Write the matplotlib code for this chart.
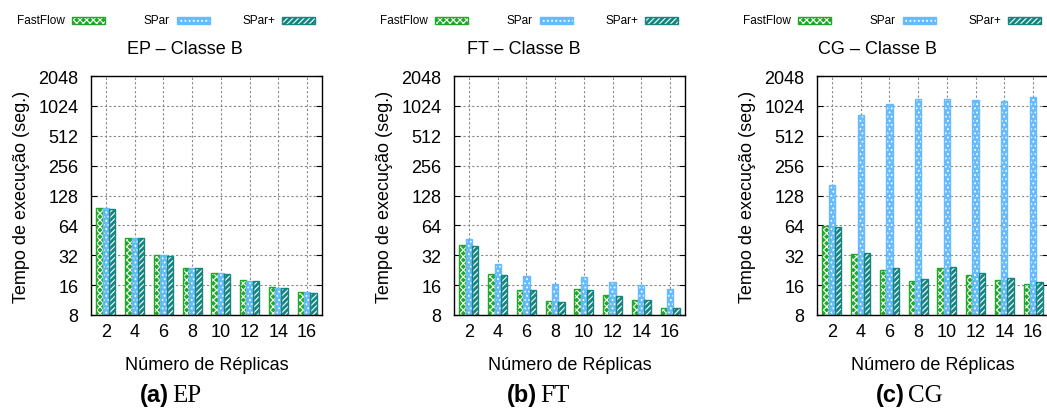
import matplotlib
matplotlib.use("Agg")
import matplotlib.pyplot as plt
from matplotlib.patches import Rectangle
from matplotlib.ticker import FixedLocator, FixedFormatter
import numpy as np

plt.rcParams['font.family'] = ['Liberation Sans', 'DejaVu Sans']
plt.rcParams['hatch.linewidth'] = 0.8

# dados (tempo em segundos)
replicas = [2, 4, 6, 8, 10, 12, 14, 16]
series = ['FastFlow', 'SPar', 'SPar+']

ep_fastflow = [94.7, 47.6, 31.9, 23.9, 21.3, 18.0, 15.3, 13.5]
ep_spar = [95.0, 47.6, 31.9, 23.9, 21.0, 17.6, 15.1, 13.7]
ep_sparplus = [94.0, 47.6, 31.7, 23.8, 20.8, 17.6, 15.1, 13.3]

ft_fastflow = [40.8, 20.7, 14.3, 11.1, 14.6, 12.6, 11.2, 9.5]
ft_spar = [46.5, 26.1, 19.7, 16.4, 19.3, 17.2, 15.9, 14.7]
ft_sparplus = [39.9, 20.4, 14.2, 10.9, 14.4, 12.4, 11.4, 9.4]

cg_fastflow = [63.4, 32.9, 22.9, 17.7, 23.6, 20.4, 18.1, 16.5]
cg_spar = [162.6, 823, 1079, 1193, 1193, 1165, 1156, 1259]
cg_sparplus = [61.0, 33.6, 23.6, 18.6, 24.3, 21.3, 19.0, 17.3]

titulos = ['EP – Classe B', 'FT – Classe B', 'CG – Classe B']
legendas = ['EP', 'FT', 'CG']
letras = ['(a)', '(b)', '(c)']
yticks = [8, 16, 32, 64, 128, 256, 512, 1024, 2048]

cores = ['#1fa82a', '#66bbff', '#17857f']
hatches = ['xxxxx', '....', '//////']

dados = [
    [ep_fastflow, ep_spar, ep_sparplus],
    [ft_fastflow, ft_spar, ft_sparplus],
    [cg_fastflow, cg_spar, cg_sparplus],
]

W, H = 1047, 410
fig = plt.figure(figsize=(W / 100, H / 100), dpi=100)

larg = 0.22
x = np.arange(len(replicas))

for p in range(3):
    dx = p * 363
    ax = fig.add_axes([(91 + dx) / W, 1 - 316 / H, 231 / W, 239 / H])
    for s in range(3):
        pos = x + (s - 1) * larg
        ax.bar(pos, dados[p][s], width=larg, color=cores[s], edgecolor='white',
               hatch=hatches[s], linewidth=0, zorder=3)
        ax.bar(pos, dados[p][s], width=larg, fill=False, edgecolor=cores[s],
               linewidth=1.0, zorder=4)
    ax.set_yscale('log', base=2)
    ax.set_ylim(8, 2048)
    ax.yaxis.set_major_locator(FixedLocator(yticks))
    ax.yaxis.set_major_formatter(FixedFormatter([str(v) for v in yticks]))
    ax.yaxis.set_minor_locator(FixedLocator([]))
    ax.set_xlim(-0.52, len(replicas) - 0.48)
    ax.set_xticks(x)
    ax.set_xticklabels([str(r) for r in replicas])
    ax.grid(True, which='major', linestyle=(0, (2, 2)), color='#888888', linewidth=0.8, zorder=0)
    ax.tick_params(direction='in', length=4, labelsize=13, top=False, right=True, pad=6)
    ax.tick_params(axis='y', pad=9)
    for sp in ax.spines.values():
        sp.set_linewidth(1.0)
        sp.set_zorder(5)
    ax.set_ylabel('Tempo de execução (seg.)', fontsize=13, labelpad=6)
    ax.set_xlabel('Número de Réplicas', fontsize=13, labelpad=11)

    # título e legenda de cada painel
    tx = [185, 524, 878][p]
    fig.text(tx / W, 1 - 50 / H, titulos[p], ha='center', va='center', fontsize=13)
    lx_text = [65, 170, 275]
    lx_patch = [72, 177, 282]
    for s in range(3):
        fig.text((lx_text[s] + dx) / W, 1 - 21 / H, series[s], ha='right', va='center', fontsize=8.5)
        r = Rectangle(((lx_patch[s] + dx) / W, 1 - 24.5 / H), 33 / W, 7 / H,
                      transform=fig.transFigure, facecolor=cores[s], edgecolor='white',
                      hatch=hatches[s], linewidth=0)
        fig.add_artist(r)
        r2 = Rectangle(((lx_patch[s] + dx) / W, 1 - 24.5 / H), 33 / W, 7 / H,
                       transform=fig.transFigure, fill=False, edgecolor=cores[s], linewidth=1.0)
        fig.add_artist(r2)

    cx = [172, 540, 908][p]
    fig.text(cx / W - 0.003, 1 - 396 / H, letras[p], ha='right', va='center',
             fontsize=17, fontweight='bold')
    fig.text(cx / W, 1 - 396 / H, legendas[p], ha='left', va='center',
             fontsize=18, family=['Liberation Serif', 'DejaVu Serif'])

fig.savefig('out.png', dpi=100)
